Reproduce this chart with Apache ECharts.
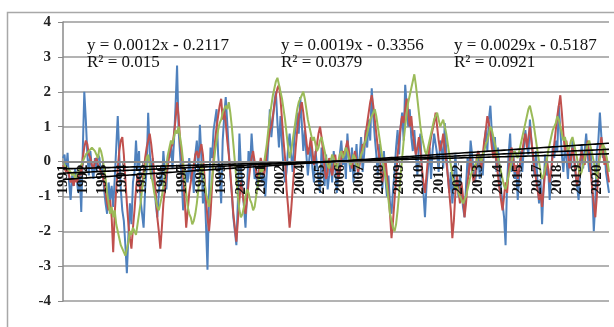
<!DOCTYPE html>
<html>
<head>
<meta charset="utf-8">
<script src="https://cdn.jsdelivr.net/npm/echarts@6/dist/echarts.min.js"></script>
<style>
  html, body { margin: 0; padding: 0; background: #fff; }
  #chart { width: 614px; height: 327px; }
</style>
</head>
<body>
<div id="chart"></div>
<script>
  // monthly values 1991-2020
  var firstYear = 1991
  var lastYear = 2020
  var blue = [
    0.1, 0.2, -0.3, 0.25, -0.6, -1.1, -0.4, -0.7, -0.2, -0.5, -0.9, -0.3,
    -1.45, 0.3, 2.0, 1.2, 0.2, -0.4, 0.3, -0.2, -0.5, 0.1, -0.3, 0.2,
    0.1, -0.4, -0.2, -0.8, -1.2, -1.5, -0.6, -1.1, -0.7, -1.3, -0.5, 0.4,
    1.3, 0.2, -0.8, -1.4, -1.7, -2.4, -3.2, -2.1, -1.2, -1.8, -0.6, -0.3,
    0.6, -0.2, 0.3, -1.1, -1.5, -1.9, -0.8, -0.2, 1.4, 0.3, -0.5, 0.1,
    -0.6, -1.2, -1.6, -0.9, -0.4, -0.7, 0.3, -0.3, -0.8, 0.2, 0.1, 0.5,
    -0.2, 0.6, 1.6, 2.75, 0.9, 0.2, -0.5, -1.4, -0.9, -0.3, -0.6, 0.1,
    -0.5, -0.2, -0.9, 0.2, 0.6, -0.3, 1.05, 0.1, -1.2, -0.6, -1.8, -3.1,
    -1.0, 0.4, 0.1, 0.9, 1.2, 1.5, 0.2, -0.4, -1.2, 0.6, 1.3, 1.85,
    1.1, 0.3, -0.4, -0.9, -1.6, -2.0, -2.4, -1.1, 0.8, -0.2, -0.8, -1.3,
    -1.9, -0.9, 0.3, -0.2, 0.8, 0.1, -0.5, -0.3, -0.8, 0.0, -0.4, -0.6,
    -0.2, -1.0, -0.3, 0.5, 1.5, 0.7, 1.2, 1.7, 2.0, 1.1, 0.4, 1.3,
    0.5, -0.2, -0.6, -0.3, 0.4, 0.8, 0.2, -0.3, 0.6, 1.0, 1.4, 0.8,
    1.85, 1.1, 0.3, 0.9, 0.2, -0.4, 0.1, 0.5, -0.2, -0.6, 0.3, -0.1,
    -0.5, -0.9, 0.4, -0.3, -0.7, 0.2, -0.8, -0.4, 0.1, -0.6, 0.3, -0.2,
    -0.9, -0.4, 0.2, 0.6, -0.1, 0.3, -0.5, 0.8, 0.1, -0.3, 0.4, -0.6,
    -0.2, 0.5, -0.4, 0.1, 0.7, -0.3, 0.2, 0.9, 0.4, 1.2, 0.6, 2.1,
    1.3, 0.7, 0.2, -0.4, 0.5, -0.2, -0.8, 0.3, -0.5, -1.0, -0.4, -1.2,
    -1.5, -0.8, -0.3, 0.4, 0.9, 0.2, 1.0, 1.4, 0.6, 2.2, 1.6, 1.0,
    1.5, 0.7, 0.3, 0.9, 0.2, -0.4, 0.5, 0.8, -0.3, -0.9, -1.6, -0.7,
    -0.2, 0.4, -0.5, 0.3, 0.8, 0.5, 0.2, -0.3, 0.6, 0.4, -0.2, 1.1,
    0.3, -0.4, -0.9, -0.3, -1.2, -0.6, 0.2, -0.5, -1.0, -0.4, -0.8, -1.3,
    -1.6, -0.7, 0.1, -0.4, 0.6, 0.2, -0.3, -0.6, -0.2, 0.3, -0.5, 0.2,
    -0.4, 0.5, 0.9, 0.3, 1.2, 1.6, 0.8, 0.2, 0.7, -0.3, 0.4, -0.2,
    -0.8, -1.2, -1.6, -2.4, -0.6, 0.2, 0.8, -0.3, 0.3, -0.5, -0.2, -1.1,
    -0.4, 0.3, -0.3, 0.4, 0.9, 0.5, 0.2, 1.2, 0.6, 0.1, -0.4, 0.3,
    -0.6, -1.2, -0.5, -1.8, -0.7, 0.2, -0.4, -0.2, -1.1, -0.3, 0.4, 0.1,
    0.6, 0.3, 1.6, 0.9, 0.2, -0.3, 0.4, 0.1, -0.5, 0.3, -0.2, 0.6,
    0.2, -0.4, -0.7, -1.1, -0.3, 0.5, -0.2, 0.3, 0.8, 0.2, -0.3, 0.4,
    -0.8, -2.0, -1.2, 0.3, 0.6, 1.4, 0.7, 0.1, 0.4, -0.3, -0.6, -0.9
  ]
  var red = [
    -0.1, -0.2, -0.3, -0.2, -0.4, -0.6, -0.5, -0.7, -0.4, -0.6, -0.5, -0.2,
    -0.4, 0.1, 0.4, 0.6, 0.5, 0.2, 0.1, -0.1, -0.2, 0.0, 0.1, -0.1,
    -0.2, -0.3, -0.4, -0.6, -0.9, -1.2, -1.4, -1.1, -1.6, -2.6, -1.5, -0.8,
    -0.2, 0.3, 0.6, 0.7, 0.2, -0.5, -1.2, -1.8, -2.2, -2.5, -1.9, -1.4,
    -0.8, -0.4, -0.6, -0.9, -0.7, -0.3, 0.1, 0.4, 0.6, 0.8, 0.5, 0.1,
    -0.4, -0.9, -1.6, -2.0, -2.5, -1.9, -1.2, -0.8, -0.4, -0.1, 0.2, 0.4,
    0.5, 0.8, 1.2, 1.7, 1.3, 0.6, 0.2, -0.4, -1.1, -1.9, -1.4, -0.9,
    -0.6, -0.3, -0.1, 0.2, 0.3, 0.1, 0.3, 0.5, 0.2, -0.4, -1.1, -1.6,
    -2.0, -1.5, -0.7, 0.1, 0.6, 1.0, 1.3, 1.6, 1.8, 1.2, 1.5, 1.1,
    0.6, 0.2, -0.3, -0.9, -1.5, -1.9, -2.3, -1.7, -1.1, -0.6, -0.9, -1.2,
    -1.5, -1.1, -0.6, -0.2, 0.1, 0.3, 0.0, -0.3, -0.5, -0.2, 0.1, -0.1,
    -0.4, -0.2, 0.3, 0.6, 0.9, 1.0, 1.3, 1.6, 1.9, 2.1, 2.2, 1.8,
    1.2, 0.6, 0.1, -0.8, -1.3, -1.9, -1.4, -0.8, -0.2, 0.4, 0.9, 1.3,
    1.5, 1.7, 1.4, 1.0, 0.6, 0.2, 0.4, 0.7, 0.3, -0.1, 0.2, 0.5,
    0.8, 1.0, 0.7, 0.3, -0.2, -0.5, -0.3, 0.1, -0.2, -0.4, -0.1, 0.2,
    -0.2, -0.5, -0.3, 0.1, 0.3, 0.2, 0.4, 0.6, 0.3, 0.0, -0.2, 0.1,
    0.3, 0.0, -0.3, -0.1, 0.2, 0.5, 0.4, 0.8, 1.1, 1.4, 1.7, 1.9,
    1.6, 1.2, 0.8, 0.4, 0.1, -0.3, -0.6, -0.2, 0.1, -0.4, -0.9, -1.5,
    -2.2, -1.7, -1.1, -0.5, 0.2, 0.6, 1.0, 1.3, 1.1, 1.5, 1.8, 1.4,
    1.0, 1.3, 0.8, 0.5, 0.2, 0.4, 0.7, 0.3, -0.2, -0.6, -0.9, -0.4,
    0.1, 0.4, 0.7, 0.9, 1.1, 1.4, 1.0, 0.6, 0.3, 0.5, 0.8, 0.4,
    0.0, -0.4, -0.9, -1.4, -2.2, -1.7, -0.9, -0.4, -0.8, -1.2, -0.6, -1.0,
    -1.6, -1.2, -0.6, -0.2, 0.1, -0.3, -0.6, -0.4, 0.1, 0.3, 0.1, -0.2,
    0.2, 0.6, 0.9, 1.3, 1.1, 0.8, 0.4, 0.1, 0.3, 0.0, -0.4, -0.8,
    -1.1, -1.4, -1.0, -0.6, -0.9, -0.3, 0.2, 0.4, 0.1, -0.3, -0.1, -0.5,
    -0.2, 0.1, 0.3, 0.6, 0.8, 0.4, 0.7, 1.0, 0.6, 0.2, -0.2, -0.5,
    -0.8, -1.1, -0.9, -1.3, -0.8, -0.3, 0.1, -0.2, -0.6, -0.3, 0.2, 0.5,
    0.9, 1.3, 1.6, 1.9, 1.4, 0.8, 0.3, 0.6, 0.2, -0.2, 0.1, 0.4,
    0.1, -0.3, -0.7, -0.4, 0.0, 0.3, 0.1, -0.1, 0.3, 0.6, 0.2, -0.3,
    -0.8, -1.2, -1.6, -1.0, -0.3, 0.4, 0.7, 0.3, -0.1, 0.2, -0.3, -0.6
  ]
  var green = [
    0.0, -0.1, -0.1, -0.2, -0.2, -0.3, -0.4, -0.3, -0.5, -0.4, -0.3, -0.2,
    -0.1, 0.0, 0.1, 0.2, 0.2, 0.3, 0.3, 0.4, 0.4, 0.3, 0.2, 0.1,
    0.4, 0.3, 0.1, -0.2, -0.5, -0.9, -1.2, -1.5, -1.3, -1.6, -1.4, -1.8,
    -2.0, -2.2, -2.4, -2.5, -2.6, -2.7, -2.5, -2.3, -2.0, -2.1, -1.9, -2.0,
    -2.1, -1.8, -1.5, -1.2, -0.8, -0.5, -0.2, 0.1, 0.2, -0.1, -0.4, -0.6,
    -0.9, -1.1, -1.3, -1.4, -1.2, -1.0, -0.7, -0.4, -0.1, 0.2, 0.4, 0.6,
    0.5, 0.7, 0.9, 0.8, 1.0, 0.7, 0.4, 0.0, -0.5, -0.9, -1.3, -1.5,
    -1.6, -1.8, -1.7, -1.5, -1.2, -0.8, -0.4, 0.0, -0.3, -0.6, -0.9, -1.1,
    -1.3, -0.9, -0.5, -0.1, 0.3, 0.6, 0.9, 1.1, 1.2, 1.4, 1.5, 1.6,
    1.5, 1.7, 1.4, 1.0, 0.5, 0.0, -0.5, -1.0, -1.4, -1.6, -1.5, -1.3,
    -1.0, -0.8, -0.9, -1.1, -1.2, -1.4, -1.3, -1.0, -0.7, -0.4, -0.2, -0.3,
    -0.1, 0.2, 0.5, 0.9, 1.3, 1.6, 1.9, 2.1, 2.3, 2.4, 2.2, 2.0,
    1.8, 1.5, 1.2, 0.8, 0.4, 0.1, 0.3, 0.6, 0.9, 1.2, 1.5, 1.7,
    1.8, 1.9, 2.0, 1.8, 1.5, 1.2, 1.0, 0.8, 0.6, 0.7, 0.5, 0.3,
    0.4, 0.6, 0.7, 0.5, 0.3, 0.1, -0.1, -0.2, 0.0, 0.2, 0.1, -0.1,
    -0.2, 0.0, 0.2, 0.3, 0.1, 0.2, 0.4, 0.3, 0.1, -0.1, 0.0, 0.2,
    0.1, -0.1, -0.2, 0.0, 0.2, 0.3, 0.5, 0.6, 0.8, 1.0, 1.2, 1.3,
    1.4, 1.5, 1.3, 1.0, 0.7, 0.4, 0.1, -0.2, -0.4, -0.7, -1.1, -1.5,
    -1.7, -1.9, -2.0, -1.8, -1.4, -0.9, -0.4, 0.1, 0.6, 1.0, 1.4, 1.7,
    1.9, 2.1, 2.3, 2.5, 2.2, 1.8, 1.4, 1.0, 0.7, 0.5, 0.3, 0.2,
    0.4, 0.6, 0.8, 1.0, 1.2, 1.3, 1.4, 1.2, 1.0, 1.1, 1.2, 1.0,
    0.8, 0.5, 0.2, -0.1, -0.4, -0.6, -0.8, -0.7, -0.9, -1.0, -1.1, -1.2,
    -1.1, -1.0, -0.8, -0.6, -0.4, -0.3, -0.2, -0.1, 0.0, 0.2, 0.1, 0.0,
    0.2, 0.3, 0.5, 0.6, 0.8, 1.0, 0.9, 0.7, 0.5, 0.3, 0.1, -0.1,
    -0.3, -0.5, -0.7, -0.8, -0.6, -0.4, -0.2, 0.0, 0.2, 0.3, 0.2, 0.1,
    0.3, 0.5, 0.7, 0.9, 1.1, 1.3, 1.5, 1.6, 1.4, 1.2, 0.9, 0.6,
    0.3, 0.0, -0.3, -0.5, -0.4, -0.2, 0.0, 0.3, 0.5, 0.7, 0.9, 1.0,
    1.1, 1.3, 1.2, 1.0, 0.8, 0.6, 0.7, 0.5, 0.3, 0.4, 0.6, 0.7,
    0.5, 0.3, 0.1, -0.2, -0.4, -0.3, -0.1, 0.1, 0.3, 0.5, 0.6, 0.4,
    0.2, 0.0, -0.3, -0.5, -0.2, 0.1, 0.3, 0.5, 0.4, 0.2, 0.0, -0.3
  ]
  // linear trends (x = month number)
  var slopes = [0.0012, 0.0019, 0.0029]
  var intercepts = [-0.2117, -0.3356, -0.5187]
  var rSquared = ['0.015', '0.0379', '0.0921']
  var labelX = [162, 356, 529]

  var months = []
  for (var yr = firstYear; yr <= lastYear; yr++) {
    for (var mo = 0; mo < 12; mo++) months.push(String(yr))
  }

  var serif = 'Liberation Serif, Times New Roman, serif'
  var colors = ['#4f81bd', '#c0504d', '#9bbb59']
  var series = [blue, red, green].map(function (d, k) {
    return {
      type: 'line', data: d, symbol: 'none', z: 2 + k,
      lineStyle: { color: colors[k], width: 2 },
    }
  })
  var texts = []
  slopes.forEach(function (a, k) {
    var b = intercepts[k]
    series.push({
      type: 'line', symbol: 'none', zlevel: 1, z: 10, silent: true,
      data: months.map(function (m, i) { return +(a * (i + 1) + b).toFixed(4) }),
      lineStyle: { color: '#000', width: 1.6 },
    })
    texts.push({
      type: 'text', left: labelX[k] - 75, top: 37, z: 20,
      style: { text: 'y = ' + a + 'x - ' + Math.abs(b), font: '17px ' + serif, fill: '#111', width: 150, align: 'center' },
    })
    texts.push({
      type: 'text', left: labelX[k] - 75, top: 54, z: 20,
      style: { text: 'R² = ' + rSquared[k], font: '17px ' + serif, fill: '#111', width: 150, align: 'center' },
    })
  })

  var gridTop = 22
  var gridBottom = 26
  var plotH = 327 - gridTop - gridBottom

  var myChart = echarts.init(document.getElementById('chart'))
  var option = {
    animation: false,
    backgroundColor: '#fff',
    grid: { left: 63, right: 5, top: gridTop, bottom: gridBottom, outerBoundsMode: 'none', containLabel: false },
    xAxis: {
      type: 'category',
      data: months,
      boundaryGap: false,
      zlevel: 1,
      z: 5,
      // category axis sits on the y = 0 line (middle of -4..4)
      offset: -plotH / 2,
      axisLine: { onZero: false, lineStyle: { color: '#8a8a8a', width: 2 } },
      axisTick: { show: true, interval: 12, length: 4, lineStyle: { color: '#8a8a8a' } },
      axisLabel: {
        interval: 12, rotate: 90, margin: 3,
        color: '#111', fontFamily: serif, fontSize: 15, fontWeight: 'bold',
      },
      splitLine: { show: false },
    },
    yAxis: {
      type: 'value',
      min: -4,
      max: 4,
      interval: 1,
      axisLine: { show: true, lineStyle: { color: '#8a8a8a', width: 1.5 } },
      axisTick: { show: true, length: 5, lineStyle: { color: '#8a8a8a' } },
      axisLabel: { margin: 12, color: '#222', fontFamily: serif, fontSize: 15, fontWeight: 'bold' },
      splitLine: { lineStyle: { color: '#9a9a9a', width: 1.5 } },
    },
    graphic: [
      {
        type: 'rect', left: 5, top: 10, z: -1, silent: true,
        shape: { width: 620, height: 330 },
        style: { fill: 'none', stroke: '#a8a8a8', lineWidth: 1.5 },
      },
    ].concat(texts),
    series: series,
  }
  myChart.setOption(option)
</script>
</body>
</html>
